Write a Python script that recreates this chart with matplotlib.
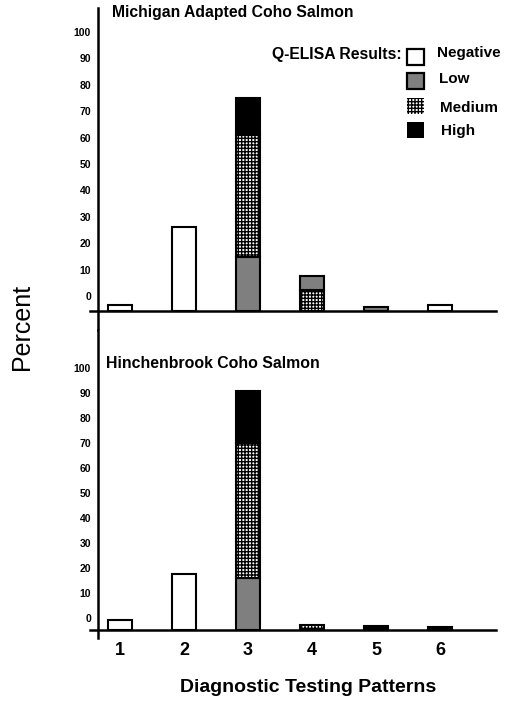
import matplotlib
matplotlib.use('Agg')
import matplotlib.pyplot as plt
from matplotlib.patches import Rectangle

plt.rcParams['font.family'] = ['Liberation Sans', 'DejaVu Sans']
plt.rcParams['hatch.linewidth'] = 1.0

# Data (percent)
patterns = [1, 2, 3, 4, 5, 6]
results = ['Negative', 'Low', 'Medium', 'High']

mi_negative = [2.3, 32, 0, 0, 0, 2.3]
mi_low = [0, 0, 20.5, 5.3, 1.5, 0]
mi_medium = [0, 0, 46.2, 8.0, 0, 0]
mi_high = [0, 0, 14, 0, 0, 0]
# stacking order from the bottom for each pattern
mi_order = ['NLMH', 'NLMH', 'NLMH', 'MLNH', 'NLMH', 'NLMH']

hi_negative = [4, 22.4, 0, 0, 0, 0]
hi_low = [0, 0, 20.7, 0, 0, 0]
hi_medium = [0, 0, 54, 2, 0, 0]
hi_high = [0, 0, 21, 0, 1.6, 1.1]
hi_order = ['NLMH'] * 6

yticks = [0, 10, 20, 30, 40, 50, 60, 70, 80, 90, 100]

styles = {
    'N': dict(facecolor='white', hatch=None),
    'L': dict(facecolor='#7f7f7f', hatch=None),
    'M': dict(facecolor='white', hatch='+++++'),
    'H': dict(facecolor='black', hatch=None),
}

W, H = 514, 701


def px(x, y):
    return x / W, 1 - y / H


def draw_panel(ax, neg, low, med, high, order, label_shift, ylim):
    series = {'N': neg, 'L': low, 'M': med, 'H': high}
    for i, x in enumerate(patterns):
        bottom = 0
        for key in order[i]:
            v = series[key][i]
            if v <= 0:
                continue
            ax.bar(x, v, bottom=bottom, width=0.375, edgecolor='black',
                   linewidth=1.5, **styles[key])
            bottom += v
    ax.set_xlim(0.656, 6.875)
    ax.set_ylim(*ylim)
    ax.axhline(0, xmin=-8 / 398, xmax=1, color='black', lw=1.8, clip_on=False)
    for s in ['top', 'right', 'bottom']:
        ax.spines[s].set_visible(False)
    ax.spines['left'].set_linewidth(1.8)
    ax.set_yticks([t + label_shift for t in yticks])
    ax.set_yticklabels([str(t) for t in yticks], fontsize=7.5, fontweight='bold')
    ax.tick_params(axis='y', length=0, pad=5)
    ax.set_xticks(patterns)


fig = plt.figure(figsize=(5.14, 7.01), dpi=100)

ax1 = fig.add_axes([98 / W, 1 - 330 / H, 398 / W, 322 / H])
draw_panel(ax1, mi_negative, mi_low, mi_medium, mi_high, mi_order,
           5.7, (-7.2, 114.8))
ax1.tick_params(axis='x', length=0, labelbottom=False)

ax2 = fig.add_axes([98 / W, 1 - 638 / H, 398 / W, 308 / H])
draw_panel(ax2, hi_negative, hi_low, hi_medium, hi_high, hi_order,
           4.8, (-3.2, 120))
ax2.tick_params(axis='x', length=0, pad=3)
ax2.set_xticklabels([str(p) for p in patterns], fontsize=13, fontweight='bold')

# panel titles and axis labels
fig.text(*px(112, 13), 'Michigan Adapted Coho Salmon', fontsize=11.3,
         fontweight='bold', va='center', ha='left')
fig.text(*px(106, 363), 'Hinchenbrook Coho Salmon', fontsize=11.4,
         fontweight='bold', va='center', ha='left')
fig.text(*px(22, 327), 'Percent', fontsize=18, rotation=90,
         va='center', ha='center')
fig.text(*px(308, 687), 'Diagnostic Testing Patterns', fontsize=14,
         fontweight='bold', va='center', ha='center')

# legend drawn by hand
fig.text(*px(402, 55), 'Q-ELISA Results:', fontsize=11.3, fontweight='bold',
         va='center', ha='right')
box_y = [57, 81, 106, 130]
lab_x = [437, 439, 440, 441]
lab_y = [53, 79, 108, 131]
for key, name, by, lx, ly in zip('NLMH', results, box_y, lab_x, lab_y):
    x0, y0 = px(407, by + 8)
    lw = 0 if key in 'MH' else 1.6
    fig.add_artist(Rectangle((x0, y0), 17 / W, 16 / H, transform=fig.transFigure,
                             edgecolor='black', linewidth=lw, **styles[key]))
    fig.text(*px(lx, ly), name, fontsize=11, fontweight='bold',
             va='center', ha='left')

fig.savefig('out.png', dpi=100)
